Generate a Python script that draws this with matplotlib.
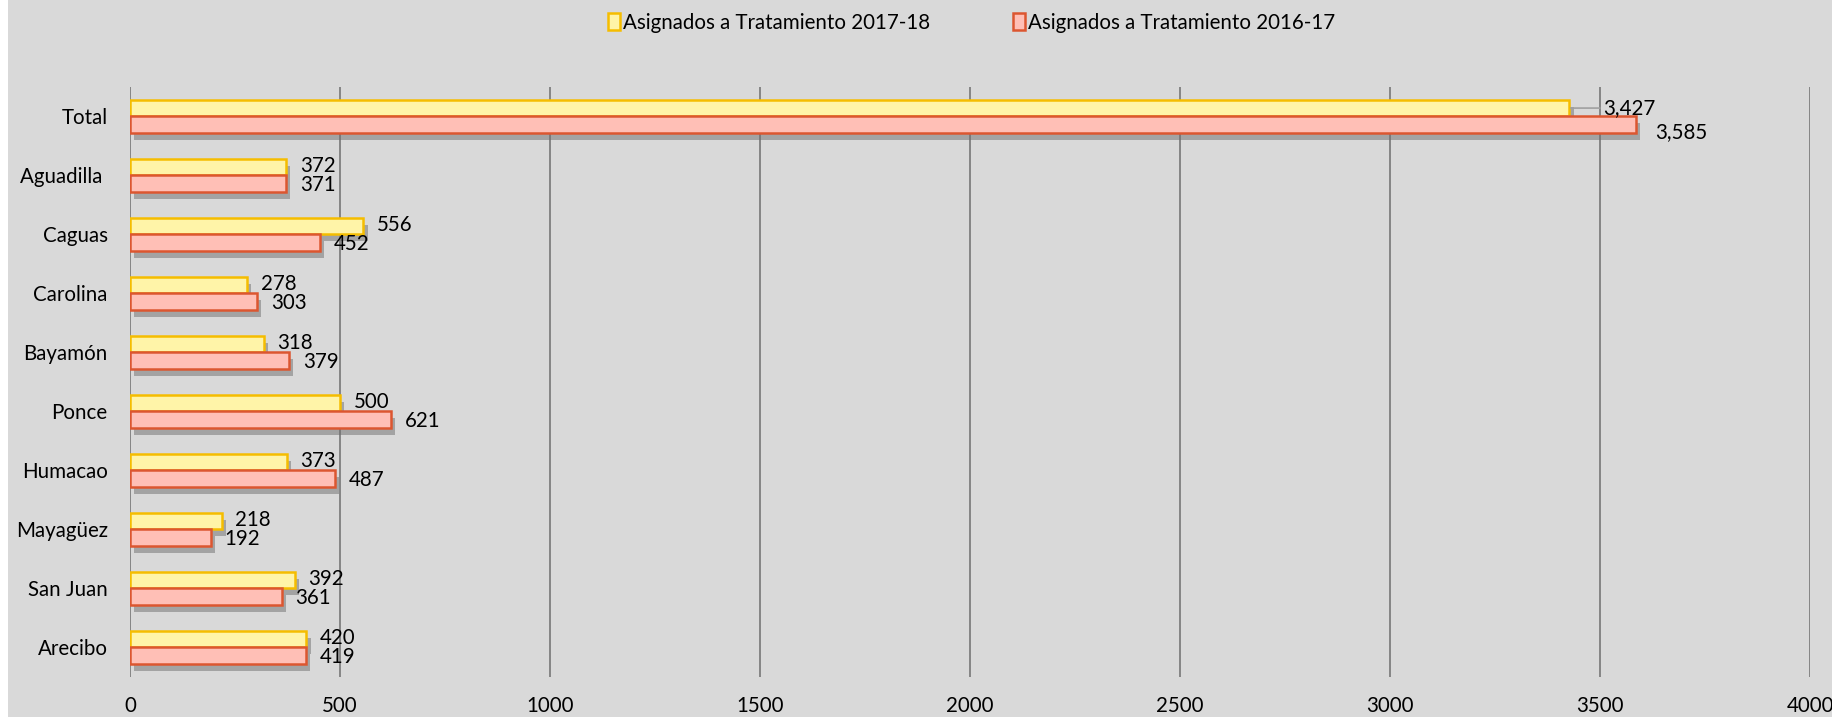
import numpy as np
import matplotlib
matplotlib.use("Agg")
from matplotlib import pyplot as plt
from matplotlib.patches import Patch, Rectangle
import matplotlib.patheffects as pe

plt.rcParams['font.family'] = ['Lato', 'DejaVu Sans']

regions = ["Total", "Aguadilla ", "Caguas", "Carolina", "Bayamón", "Ponce",
           "Humacao", "Mayagüez", "San Juan", "Arecibo"]
vals_1718 = [3427, 372, 556, 278, 318, 500, 373, 218, 392, 420]
vals_1617 = [3585, 371, 452, 303, 379, 621, 487, 192, 361, 419]
xticks = [0, 500, 1000, 1500, 2000, 2500, 3000, 3500, 4000]

bg = '#d9d9d9'
y_face, y_edge = '#fff4a8', '#f5bd00'
r_face, r_edge = '#ffbfb6', '#dc5630'

fig = plt.figure(figsize=(18.33, 7.17), dpi=100, facecolor=bg)
# thin white strip on the left edge, as in the original export
fig.patches.append(Rectangle((0, 0), 8 / 1833, 1, transform=fig.transFigure,
                             facecolor='white', edgecolor='none', zorder=0))
ax = fig.add_axes([0.0709, 0.0558, 0.9166, 0.8229])
ax.set_facecolor(bg)

n = len(regions)
y = np.arange(n)[::-1]
h = 0.285
shadow = [pe.SimplePatchShadow(offset=(3, -5), shadow_rgbFace='#6f6f6f', alpha=0.5), pe.Normal()]

b1 = ax.barh(y + h / 2, vals_1718, height=h, color=y_face, edgecolor=y_edge, linewidth=1.8, zorder=3)
b2 = ax.barh(y - h / 2, vals_1617, height=h, color=r_face, edgecolor=r_edge, linewidth=1.8, zorder=3)
for b in list(b1) + list(b2):
    b.set_path_effects(shadow)

fs = 14.8
for i in range(n):
    if regions[i] == "Total":
        ax.annotate(f"{vals_1718[i]:,}", xy=(vals_1718[i], y[i] + h / 2), xytext=(24, 0),
                    textcoords='offset points', va='center', ha='left', fontsize=fs,
                    arrowprops=dict(arrowstyle='-', color='#a0a0a0', lw=1.2, shrinkA=0, shrinkB=1))
        ax.annotate(f"{vals_1617[i]:,}", xy=(vals_1617[i], y[i] - h / 2), xytext=(14, -5),
                    textcoords='offset points', va='center', ha='left', fontsize=fs)
    else:
        ax.annotate(f"{vals_1718[i]:,}", xy=(vals_1718[i], y[i] + h / 2), xytext=(10, 1),
                    textcoords='offset points', va='center', ha='left', fontsize=fs)
        ax.annotate(f"{vals_1617[i]:,}", xy=(vals_1617[i], y[i] - h / 2), xytext=(10, -1),
                    textcoords='offset points', va='center', ha='left', fontsize=fs)

ax.set_xlim(0, 4000)
ax.set_ylim(-0.5, n - 0.5)
ax.set_xticks(xticks)
ax.set_yticks(y)
ax.set_yticklabels(regions)
ax.tick_params(axis='both', length=0, labelsize=fs)
ax.tick_params(axis='x', pad=14)
ax.tick_params(axis='y', pad=16)
ax.grid(axis='x', color='#7f7f7f', linewidth=1.3, zorder=0)
ax.set_axisbelow(True)
for s in ax.spines.values():
    s.set_visible(False)

handles = [Patch(facecolor=y_face, edgecolor=y_edge, linewidth=1.8),
           Patch(facecolor=r_face, edgecolor=r_edge, linewidth=1.8)]
fig.legend(handles, ["Asignados a Tratamiento 2017-18", "Asignados a Tratamiento 2016-17"],
           loc='center', bbox_to_anchor=(0.530, 0.968), ncol=2, frameon=False, fontsize=fs,
           handlelength=0.6, handleheight=0.9, handletextpad=0.15, columnspacing=4.0)

fig.savefig("out.png", dpi=100, facecolor=bg)
